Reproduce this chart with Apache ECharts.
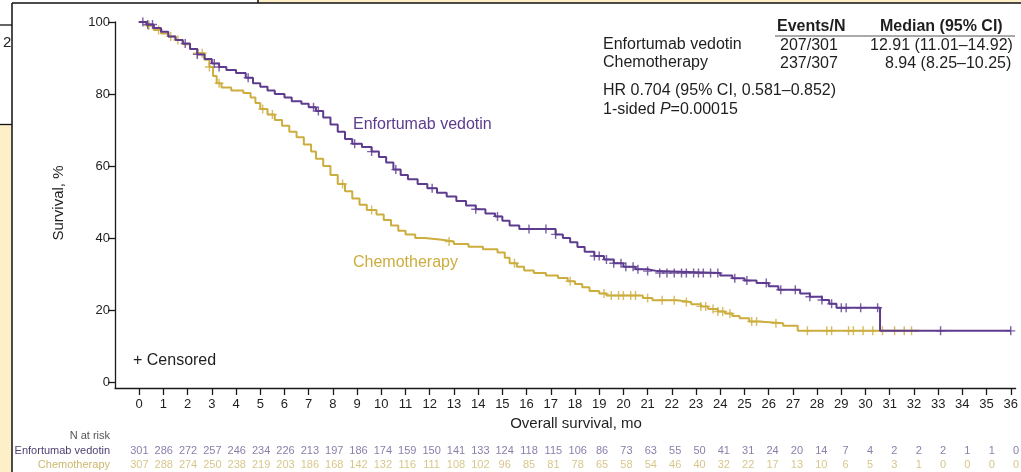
<!DOCTYPE html>
<html>
<head>
<meta charset="utf-8">
<script src="https://cdn.jsdelivr.net/npm/echarts@6/dist/echarts.min.js"></script>
<style>
  html, body { margin: 0; padding: 0; background: #ffffff; }
  #chart { width: 1021px; height: 472px; }
</style>
</head>
<body>
<div id="chart"></div>
<script>
// Kaplan–Meier overall survival: [month, survival %] at each step of the curve
const evCurve = [
  [0,100],[0.3,99.3],[0.6,98.3],[0.9,97.3],[1.2,96],[1.5,95],[1.8,94],[2.1,92.5],[2.4,91],
  [2.7,89.7],[3.0,88.5],[3.3,87.5],[3.6,86.7],[4.0,85.8],[4.4,84.5],[4.7,83],[5.0,82],[5.3,81],
  [5.6,80],[6.0,79],[6.3,78],[6.7,77.3],[7.0,76.3],[7.3,75.3],[7.6,73.5],[7.9,71.5],[8.2,69.5],
  [8.5,67.5],[8.8,66.2],[9.2,65.3],[9.6,64],[9.9,62.5],[10.2,61],[10.5,59],[10.8,57.5],[11.1,56.3],
  [11.5,55],[11.9,53.8],[12.3,52.6],[12.7,51.5],[13.1,50.3],[13.5,49],[13.9,48],[14.3,46.8],
  [14.7,46],[15.0,44.8],[15.3,43.5],[15.7,42.5],[17.2,41],[17.5,40],[17.8,38.8],[18.1,37.5],
  [18.4,36.2],[18.8,35],[19.2,34],[19.6,33],[20.0,32],[20.5,31.3],[21.0,30.8],[21.4,30.3],
  [24.0,29.6],[24.5,28.8],[25.0,28.2],[25.5,27.5],[26.0,26.6],[26.4,25.6],[27.3,24.6],[27.7,23.7],
  [28.2,22.8],[28.5,21.7],[28.8,20.6],[30.6,14.2],[36.0,14.2]
];
const chemoCurve = [
  [0,100],[0.3,99],[0.6,97.8],[0.9,96.8],[1.2,96],[1.5,95],[1.8,93.8],[2.1,92.5],[2.4,91.3],
  [2.7,89.5],[2.9,87.5],[3.05,85],[3.2,83],[3.4,81.8],[3.8,81],[4.3,80.3],[4.6,79],[4.8,77.5],
  [5.0,75.8],[5.3,74.3],[5.6,72.8],[5.9,71.2],[6.2,69.5],[6.5,68],[6.8,66],[7.1,64],[7.3,62],
  [7.6,60],[7.9,57.5],[8.2,55],[8.5,53],[8.8,51],[9.1,49.2],[9.4,47.8],[9.8,46.5],[10.1,45],
  [10.4,43.5],[10.7,42],[11.0,41],[11.4,40],[11.8,39.5],[12.5,39],[13.0,38.3],[13.6,37.6],
  [14.2,36.9],[14.8,36],[15.1,34.5],[15.3,33],[15.6,32],[15.9,31],[16.3,30.3],[16.8,29.6],
  [17.3,28.9],[17.7,28],[18.0,27.2],[18.3,26.3],[18.6,25.3],[19.0,24.6],[19.3,24],[20.8,23.3],
  [21.2,22.7],[22.2,22.2],[22.8,21.6],[23.2,21],[23.5,20.3],[23.9,19.6],[24.2,19],[24.5,18.3],
  [24.8,17.7],[25.2,16.8],[25.6,16.3],[26.6,15.6],[27.2,14.2],[32.2,14.2]
];

// Censoring times (months)
const evCensored = [0.15,0.35,0.55,1.9,2.4,3.1,3.3,4.5,7.2,7.4,8.9,9.6,10.6,12.1,13.9,14.8,16.1,
  16.8,17.2,18.8,19.0,19.3,19.6,19.9,20.1,20.4,20.6,21.0,21.5,21.8,22.1,22.4,22.6,22.9,23.1,23.3,
  23.6,23.9,24.6,25.1,25.9,26.5,27.1,27.7,28.2,28.6,29.0,29.2,29.8,30.5,33.1,36.0];
const chemoCensored = [0.4,0.8,1.3,1.6,2.4,2.6,2.9,3.3,5.1,5.5,8.4,9.6,12.8,15.5,17.8,19.2,19.5,
  19.8,20.0,20.3,20.5,21.0,21.6,22.1,22.6,23.2,23.4,23.7,23.9,24.1,24.4,25.3,25.5,26.3,27.6,28.4,
  28.6,29.3,29.5,29.9,30.3,30.7,31.2,31.6,31.9];

// Number at risk by month 0..36
const months = Array.from({ length: 37 }, (_, i) => i);
const evAtRisk = [301,286,272,257,246,234,226,213,197,186,174,159,150,141,133,124,118,115,106,86,
  73,63,55,50,41,31,24,20,14,7,4,2,2,2,1,1,0];
const chemoAtRisk = [307,288,274,250,238,219,203,186,168,142,132,116,111,108,102,96,85,81,78,65,
  58,54,46,40,32,22,17,13,10,6,5,3,1,0,0,0,0];
const yTicks = [0, 20, 40, 60, 80, 100];
const armNames = ['Enfortumab vedotin', 'Chemotherapy'];

const EV_COLOR = '#5d3b8e';
const CHEMO_COLOR = '#ccad3e';
const EV_RISK_COLOR = '#6e5c93';
const EV_RISK_LABEL = '#4f3f72';
const CHEMO_RISK_COLOR = '#cdb86c';
const FONT = '"Liberation Sans", Arial, sans-serif';
const TEXT = '#1e1e1e';

// survival value of a step curve at time t (value of the last step at or before t)
function stepValue(curve, t) {
  let v = curve[0][1];
  for (const [x, y] of curve) { if (x <= t) v = y; else break; }
  return v;
}
const plusSymbol = 'path://M4.2,0H5.8V4.2H10V5.8H5.8V10H4.2V5.8H0V4.2H4.2Z';

const chart = echarts.init(document.getElementById('chart'), null, { renderer: 'canvas' });

const txt = (x, y, text, extra) => ({
  type: 'text', z: 10,
  style: Object.assign({ x, y, text, font: '16px ' + FONT, fill: TEXT, textVerticalAlign: 'middle' }, extra || {})
});

chart.setOption({
  animation: false,
  backgroundColor: '#ffffff',
  grid: [
    { left: 115, right: 0, top: 22, bottom: 84, containLabel: false },
    { left: 115, right: 0, top: 444, height: 28, containLabel: false }
  ],
  xAxis: [
    {
      type: 'value', gridIndex: 0, min: -1, max: 36.2,
      splitLine: { show: false },
      axisLine: { show: true, onZero: false, lineStyle: { color: '#1a1a1a', width: 1.3 } },
      axisTick: { show: true, length: 7, customValues: months, lineStyle: { color: '#1a1a1a', width: 1.3 } },
      axisLabel: { customValues: months, fontSize: 13, fontFamily: FONT, color: TEXT, margin: 10 }
    },
    { type: 'value', gridIndex: 1, min: -1, max: 36.2, show: false }
  ],
  yAxis: [
    {
      type: 'value', gridIndex: 0, min: -1.67, max: 100,
      splitLine: { show: false },
      axisLine: { show: true, onZero: false, lineStyle: { color: '#1a1a1a', width: 1.3 } },
      axisTick: { show: true, length: 7, customValues: yTicks, lineStyle: { color: '#1a1a1a', width: 1.3 } },
      axisLabel: { customValues: yTicks, fontSize: 13, fontFamily: FONT, color: TEXT, margin: 5 }
    },
    {
      type: 'category', gridIndex: 1, data: ['Chemotherapy', 'Enfortumab vedotin'],
      axisLine: { show: false }, axisTick: { show: false }, splitLine: { show: false },
      axisLabel: {
        interval: 0, fontSize: 11, fontFamily: FONT, margin: 5,
        color: (v) => (v === 'Chemotherapy' ? CHEMO_RISK_COLOR : EV_RISK_LABEL)
      }
    }
  ],
  series: [
    {
      name: armNames[1], type: 'line', step: 'end', xAxisIndex: 0, yAxisIndex: 0,
      data: chemoCurve, showSymbol: false, z: 2,
      lineStyle: { color: CHEMO_COLOR, width: 2 }
    },
    {
      name: armNames[1] + ' censored', type: 'scatter', xAxisIndex: 0, yAxisIndex: 0, z: 3,
      data: chemoCensored.map(t => [t, stepValue(chemoCurve, t)]),
      symbol: plusSymbol, symbolSize: 9, itemStyle: { color: CHEMO_COLOR }
    },
    {
      name: armNames[0], type: 'line', step: 'end', xAxisIndex: 0, yAxisIndex: 0,
      data: evCurve, showSymbol: false, z: 4,
      lineStyle: { color: EV_COLOR, width: 2 }
    },
    {
      name: armNames[0] + ' censored', type: 'scatter', xAxisIndex: 0, yAxisIndex: 0, z: 5,
      data: evCensored.map(t => [t, stepValue(evCurve, t)]),
      symbol: plusSymbol, symbolSize: 9, itemStyle: { color: EV_COLOR }
    },
    {
      name: 'at risk EV', type: 'scatter', xAxisIndex: 1, yAxisIndex: 1, symbolSize: 0,
      data: months.map((m, i) => [m, 'Enfortumab vedotin', evAtRisk[i]]),
      label: { show: true, position: 'inside', formatter: p => p.value[2], fontSize: 11, fontFamily: FONT, color: EV_RISK_COLOR }
    },
    {
      name: 'at risk chemo', type: 'scatter', xAxisIndex: 1, yAxisIndex: 1, symbolSize: 0,
      data: months.map((m, i) => [m, 'Chemotherapy', chemoAtRisk[i]]),
      label: { show: true, position: 'inside', formatter: p => p.value[2], fontSize: 11, fontFamily: FONT, color: CHEMO_RISK_COLOR }
    }
  ],
  graphic: [
    // slide frame around the figure
    { type: 'rect', z: 0, shape: { x: 258, y: 0, width: 763, height: 3 }, style: { fill: '#fdf0c9' } },
    { type: 'rect', z: 0, shape: { x: 0, y: 125, width: 12, height: 347 }, style: { fill: '#fdf0c9' } },
    { type: 'line', z: 20, shape: { x1: 12, y1: 3, x2: 1021, y2: 3 }, style: { stroke: '#111', lineWidth: 1.5 } },
    { type: 'line', z: 20, shape: { x1: 258, y1: 0, x2: 258, y2: 3 }, style: { stroke: '#111', lineWidth: 1.5 } },
    { type: 'line', z: 20, shape: { x1: 0, y1: 25, x2: 12, y2: 25 }, style: { stroke: '#111', lineWidth: 1.3 } },
    { type: 'line', z: 20, shape: { x1: 0, y1: 124.5, x2: 12, y2: 124.5 }, style: { stroke: '#111', lineWidth: 1.3 } },
    { type: 'text', z: 15, style: { x: 3, y: 43, text: '2', font: '15px ' + FONT, fill: '#222', textVerticalAlign: 'middle' } },
    { type: 'rect', z: 16, shape: { x: 12, y: 3, width: 6, height: 60 }, style: { fill: '#fff' } },
    { type: 'line', z: 20, shape: { x1: 12, y1: 3, x2: 12, y2: 472 }, style: { stroke: '#111', lineWidth: 1.5 } },

    // axis titles
    {
      type: 'text', z: 10, x: 59, y: 203, rotation: Math.PI / 2,
      style: { x: 0, y: 0, text: 'Survival, %', font: '15px ' + FONT, fill: TEXT, textAlign: 'center', textVerticalAlign: 'middle' }
    },
    txt(576, 424, 'Overall survival, mo', { font: '15px ' + FONT, textAlign: 'center' }),

    // curve labels
    txt(353, 125, 'Enfortumab vedotin', { fill: EV_COLOR }),
    txt(353, 263, 'Chemotherapy', { fill: CHEMO_COLOR }),
    txt(133, 361, '+ Censored'),

    // summary table
    txt(777, 27, 'Events/N', { font: 'bold 16px ' + FONT }),
    txt(880, 27, 'Median (95% CI)', { font: 'bold 16px ' + FONT }),
    { type: 'line', z: 10, shape: { x1: 775, y1: 36, x2: 1015, y2: 36 }, style: { stroke: '#555', lineWidth: 1 } },
    txt(603, 45, 'Enfortumab vedotin'),
    txt(780, 46, '207/301'),
    txt(870, 46, '12.91 (11.01\u201314.92)'),
    txt(603, 63, 'Chemotherapy'),
    txt(780, 64, '237/307'),
    txt(885, 64, '8.94 (8.25\u201310.25)'),
    txt(603, 91, 'HR 0.704 (95% CI, 0.581\u20130.852)'),
    {
      type: 'text', z: 10,
      style: {
        x: 603, y: 110, text: '1-sided {i|P}=0.00015', font: '16px ' + FONT, fill: TEXT,
        textVerticalAlign: 'middle',
        rich: { i: { fontStyle: 'italic', fontSize: 16, fontFamily: FONT, fill: TEXT } }
      }
    },

    // number-at-risk heading
    txt(110, 436, 'N at risk', { font: '11px ' + FONT, fill: '#555', textAlign: 'right' })
  ]
});
</script>
</body>
</html>
